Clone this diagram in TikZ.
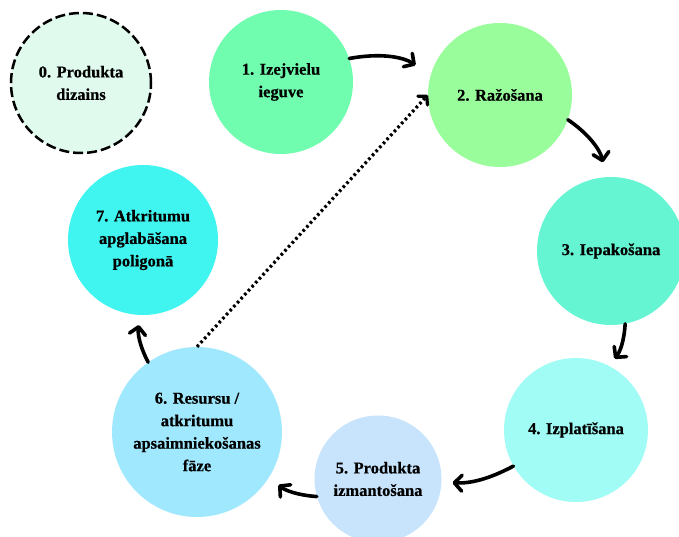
\documentclass[tikz,border=0pt]{standalone}
\usepackage{fontspec}
\setmainfont{Liberation Serif}[BoldFeatures={FakeBold=0.6}]
\usetikzlibrary{arrows.meta}
\definecolor{stage0}{HTML}{E0FAEE}
\definecolor{stage1}{HTML}{70FDAF}
\definecolor{stage2}{HTML}{99FD9B}
\definecolor{stage3}{HTML}{66F5D2}
\definecolor{stage4}{HTML}{A0FCF4}
\definecolor{stage5}{HTML}{C8E4FC}
\definecolor{stage6}{HTML}{A0E8FE}
\definecolor{stage7}{HTML}{40F5F0}
\begin{document}
\begin{tikzpicture}[x=1pt,y=-1pt,
  stage/.style={circle, draw=none, inner sep=0pt, align=center,
    font=\bfseries\fontsize{16.5}{22.5}\selectfont},
  flow/.style={line width=3.6pt, line cap=round,
    -{Straight Barb[round,length=7.5pt,width=16pt]}},
  feedback/.style={line width=3.2pt, line cap=butt, dash pattern=on 2.6pt off 2.8pt,
    -{Straight Barb[round,length=6pt,width=13pt]}}]
\useasboundingbox (0,0) rectangle (679,537);
\fill[white] (0,0) rectangle (679,537);

\node[stage, fill=stage0, draw=black, line width=2.5pt, dash pattern=on 10pt off 4pt,
      minimum size=140pt] (s0) at (81,83) {0. Produkta\\dizains};
\node[stage, fill=stage1, minimum size=144pt] (s1) at (281,82) {1. Izejvielu\\ieguve};
\node[stage, fill=stage2, minimum size=144pt] (s2) at (500,95) {2. Ražošana};
\node[stage, fill=stage3, minimum size=148pt] (s3) at (611,251) {3. Iepakošana};
\node[stage, fill=stage4, minimum size=144pt] (s4) at (576,430) {4. Izplatīšana};
\node[stage, fill=stage5, minimum size=127pt] (s5) at (378,479) {5. Produkta\\izmantošana};
\node[stage, fill=stage6, minimum size=170pt] (s6) at (197,432) {6. Resursu /\\atkritumu\\apsaimniekošanas\\fāze};
\node[stage, fill=stage7, minimum size=150pt] (s7) at (143,240) {7. Atkritumu\\apglabāšana\\poligonā};

% main cycle
\draw[flow, shorten >=18pt] (s1.19) to[bend left=22] (s2.164);
\draw[flow, shorten >=15pt] (s2.-20) to[bend left=22] (s3.94);
\draw[flow, shorten >=9pt] (s3.-79) to[bend left=18] (s4.63);
\draw[flow, shorten >=11pt] (s4.210) to[bend left=15] (s5.-3);
\draw[flow, shorten >=12pt] (s5.196) to[bend left=18] (s6.-32);
\draw[flow, shorten >=10pt] (s6.125) to[bend left=18] (s7.-92);

% loop back from resource management to production
\draw[feedback] (s6.north) -- (s2.west);
\end{tikzpicture}
\end{document}
